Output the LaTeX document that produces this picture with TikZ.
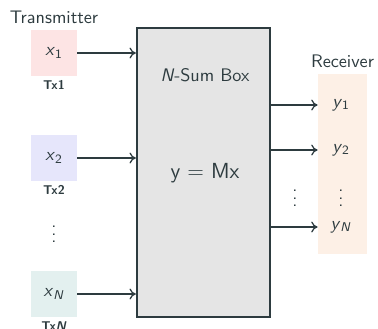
\documentclass[tikz,border=0pt]{standalone}
\usepackage{tikz}
\usetikzlibrary{arrows.meta,positioning}
\definecolor{ink}{HTML}{2D3B3F}
\definecolor{boxgrey}{HTML}{E5E5E5}
\definecolor{txone}{HTML}{FDE4E4}
\definecolor{txtwo}{HTML}{E6E6FB}
\definecolor{txn}{HTML}{E3F0EF}
\definecolor{rxfill}{HTML}{FDF0E6}
\newcommand{\sv}[2]{\textit{#1}\textsubscript{#2}}
\tikzset{
sender/.style={minimum width=25.3pt,minimum height=25.3pt,inner sep=0pt},
tag/.style={font=\sffamily\scriptsize\bfseries,inner sep=1pt},
sumbox/.style={draw=ink,line width=1.2pt,fill=boxgrey,minimum width=73.2pt,minimum height=159pt,inner sep=0pt},
rxbox/.style={fill=rxfill,minimum width=27pt,minimum height=99pt,inner sep=0pt},
signal/.style={-{To[length=3.5pt,width=6pt]},line width=.7pt,draw=ink}
}
\begin{document}
\begin{tikzpicture}[x=0.55pt,y=-0.55pt,font=\sffamily,text=ink]
\useasboundingbox (0,0) rectangle (378,328);
\node[sender,fill=txone](tx1) at (54,53){\sv{x}{1}};
\node[sender,fill=txtwo](tx2) at (54,158){\sv{x}{2}};
\node[sender,fill=txn](txN) at (54,294){\sv{x}{\textit{N}}};
\node[tag,below=1pt of tx1](l1){Tx1};
\node[tag,below=1pt of tx2](l2){Tx2};
\node[tag,below=1pt of txN](lN){Tx\textit{N}};
\node[above=0pt of tx1](tlabel){Transmitter};
\node(tdots) at (54,229){$\vdots$};
\node[sumbox](box) at (203.5,172.5){};
\node(boxname) at (205,75){\textit{N}-Sum Box};
\node[font=\sffamily\large](eq) at (205,173){y $=$ Mx};
\node[rxbox](rx) at (342.5,164){};
\node[above=0pt of rx](rlabel){Receiver};
\node(y1) at (341,105){\sv{y}{1}};
\node(y2) at (341,150){\sv{y}{2}};
\node(yN) at (341,227){\sv{y}{\textit{N}}};
\node(rdots) at (341,193){$\vdots$};
\node(adots) at (295,193){$\vdots$};
\draw[signal](tx1.east)--(tx1.east-|box.west);
\draw[signal](tx2.east)--(tx2.east-|box.west);
\draw[signal](txN.east)--(txN.east-|box.west);
\draw[signal](y1-|box.east)--(y1-|rx.west);
\draw[signal](y2-|box.east)--(y2-|rx.west);
\draw[signal](yN-|box.east)--(yN-|rx.west);
\end{tikzpicture}
\end{document}
